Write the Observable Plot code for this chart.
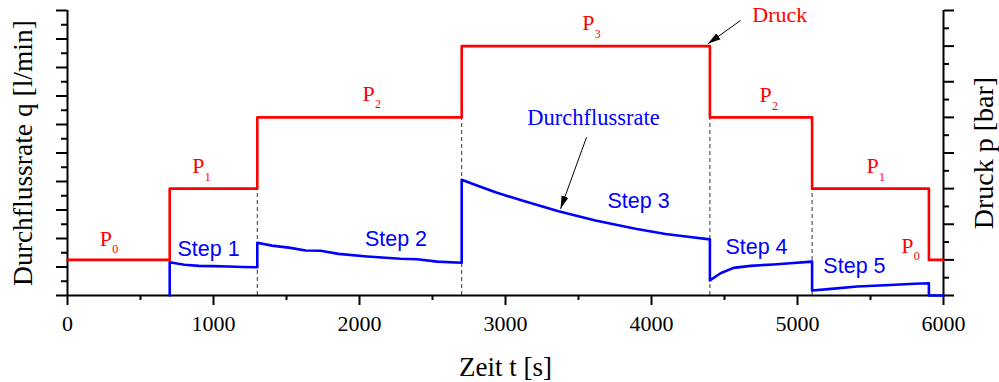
<!DOCTYPE html>
<html><head><meta charset="utf-8">
<script src="https://cdn.jsdelivr.net/npm/d3@7"></script>
<script src="https://cdn.jsdelivr.net/npm/@observablehq/plot@0.6"></script>
<style>html,body{margin:0;padding:0;background:#fff;}</style>
</head><body><div id="chart"></div>
<script>
// ---- data ----
const timeTicks = [0, 1000, 2000, 3000, 4000, 5000, 6000];
const timeMinorTicks = [500, 1500, 2500, 3500, 4500, 5500];

const pressureTimes  = [0, 700, 1300, 2700, 4400, 5100, 5900, 6000];
const pressureLevels = [1, 3, 5, 7, 5, 3, 1, 1];

const flowTimes = [700, 700, 750, 800, 900, 1000, 1100, 1200, 1300,
  1300, 1400, 1527, 1630, 1733, 1856, 2053, 2281, 2395, 2532, 2700,
  2700, 2800, 2932, 3114, 3363, 3616, 3890, 4096, 4250, 4400,
  4400, 4473, 4562, 4678, 4836, 4950, 5075, 5100,
  5100, 5250, 5409, 5637, 5800, 5900, 5900, 6000];
const flowValues = [0, 1.17, 1.12, 1.08, 1.04, 1.03, 1.02, 1.00, 0.99,
  1.85, 1.75, 1.67, 1.58, 1.57, 1.46, 1.37, 1.29, 1.27, 1.19, 1.15,
  4.06, 3.87, 3.62, 3.33, 2.96, 2.63, 2.34, 2.16, 2.06, 1.97,
  0.53, 0.78, 0.97, 1.04, 1.09, 1.13, 1.18, 1.19,
  0.175, 0.24, 0.315, 0.37, 0.41, 0.43, 0, 0];

const boundaryTimes  = [1300, 2700, 4400, 5100];
const boundaryLevels = [3, 5, 5, 3];

const pLabelSubs   = ["0", "1", "2", "3", "2", "1", "0"];
const pLabelTimes  = [221, 854, 2021, 3525, 4740, 5473, 5710];
const pLabelLevels = [1.40, 3.43, 5.47, 7.44, 5.42, 3.43, 1.20];

const stepNames  = ["Step 1", "Step 2", "Step 3", "Step 4", "Step 5"];
const stepTimes  = [966, 2250, 3911, 4719, 5390];
const stepValues = [1.40, 1.73, 3.06, 1.46, 0.78];

const flowAxisMajor = d3.range(0, 10.001, 1);
const flowAxisMinor = d3.range(0.5, 10, 1);
const pressAxisMajor = d3.range(0, 8.001, 1);
const pressAxisMinor = d3.range(0.5, 8, 1);

// pressure (0..8) shown on the flow scale (0..10)
const pToY = p => p * 10 / 8;

const pressure = pressureTimes.map((t, i) => ({t, p: pressureLevels[i]}));
const flow = flowTimes.map((t, i) => ({t, v: flowValues[i]}));
const boundaries = boundaryTimes.map((t, i) => ({t, p: boundaryLevels[i]}));
const pLabels = pLabelTimes.map((t, i) => ({t, p: pLabelLevels[i], sub: pLabelSubs[i]}));
const steps = stepNames.map((name, i) => ({name, t: stepTimes[i], v: stepValues[i]}));
const arrows = [
  {x1: 4610, y1: 9.65, x2: 4386, y2: 8.83},
  {x1: 3555, y1: 5.55, x2: 3377, y2: 3.04}
];

function filledHead(color) {
  const m = d3.create("svg:marker")
    .attr("viewBox", "-13 -4 14 8")
    .attr("markerUnits", "userSpaceOnUse")
    .attr("markerWidth", 14).attr("markerHeight", 8)
    .attr("refX", 0).attr("refY", 0)
    .attr("orient", "auto")
    .attr("fill", "#000").attr("stroke", "none");
  m.append("path").attr("d", "M0,0L-13,-3.6L-13,3.6Z");
  return m.node();
}

const RED = "#ff0000", BLUE = "#0000ff";
const SANS = "'Liberation Sans', Arial, sans-serif";

function build(marker) {
  return Plot.plot({
    width: 999, height: 382,
    marginLeft: 67, marginRight: 56, marginTop: 10, marginBottom: 87,
    x: {domain: [0, 6000], axis: null},
    y: {domain: [0, 10], axis: null},
    style: {fontFamily: "'Liberation Serif', 'Times New Roman', serif", fontSize: "22px", background: "#fff", color: "#000", overflow: "visible"},
    marks: [
      Plot.ruleX(boundaries, {x: "t", y1: 0, y2: d => pToY(d.p), stroke: "#333", strokeWidth: 1, strokeDasharray: "4,3"}),
      Plot.axisX(timeTicks, {tickSize: 10, tickPadding: 10, strokeWidth: 2, fontSize: 22, tickFormat: d => String(d), label: null}),
      Plot.axisX(timeMinorTicks, {tickSize: 5, tickFormat: () => "", strokeWidth: 2, label: null}),
      Plot.axisY(flowAxisMajor, {anchor: "left", tickSize: 11, tickFormat: () => "", strokeWidth: 2, label: null}),
      Plot.axisY(flowAxisMinor, {anchor: "left", tickSize: 6, tickFormat: () => "", strokeWidth: 2, label: null}),
      Plot.axisY(pressAxisMajor.map(pToY), {anchor: "right", tickSize: 10, tickFormat: () => "", strokeWidth: 2, label: null}),
      Plot.axisY(pressAxisMinor.map(pToY), {anchor: "right", tickSize: 5, tickFormat: () => "", strokeWidth: 2, label: null}),
      Plot.ruleX([0, 6000], {strokeWidth: 2}),
      Plot.ruleY([0], {strokeWidth: 2}),
      Plot.line(flow, {x: "t", y: "v", stroke: BLUE, strokeWidth: 2.6}),
      Plot.line(pressure, {x: "t", y: d => pToY(d.p), curve: "step-after", stroke: RED, strokeWidth: 2.6}),
      Plot.text(pLabels, {x: "t", y: d => pToY(d.p), text: () => "P", textAnchor: "start", lineAnchor: "bottom", fill: RED, fontSize: 22}),
      Plot.text(pLabels, {x: "t", y: d => pToY(d.p), text: "sub", textAnchor: "start", lineAnchor: "bottom", dx: 12.5, dy: 7.5, fill: RED, fontSize: 12}),
      Plot.text(steps, {x: "t", y: "v", text: "name", lineAnchor: "bottom", fill: BLUE, fontFamily: SANS, fontSize: 21.5}),
      Plot.text(["Druck"], {x: 4690, y: 9.59, textAnchor: "start", lineAnchor: "bottom", fill: RED, fontSize: 22}),
      Plot.text(["Durchflussrate"], {x: 3602, y: 5.99, lineAnchor: "bottom", fill: BLUE, fontSize: 22.5}),
      Plot.link(arrows, {x1: "x1", y1: "y1", x2: "x2", y2: "y2", stroke: "#000", strokeWidth: 1, markerEnd: marker}),
      Plot.text(["Zeit t [s]"], {frameAnchor: "bottom", textAnchor: "middle", dy: 80, lineAnchor: "bottom", fontSize: 27}),
      Plot.text(["Durchflussrate q [l/min]"], {frameAnchor: "left", textAnchor: "middle", rotate: -90, dx: -35.5, lineAnchor: "bottom", fontSize: 27.5}),
      Plot.text(["Druck p [bar]"], {frameAnchor: "right", textAnchor: "middle", rotate: -90, dx: 49, lineAnchor: "bottom", fontSize: 28})
    ]
  });
}

let chart;
try { chart = build(filledHead); } catch (e) { chart = build("arrow"); }
document.getElementById("chart").appendChild(chart);
</script>
</body></html>
